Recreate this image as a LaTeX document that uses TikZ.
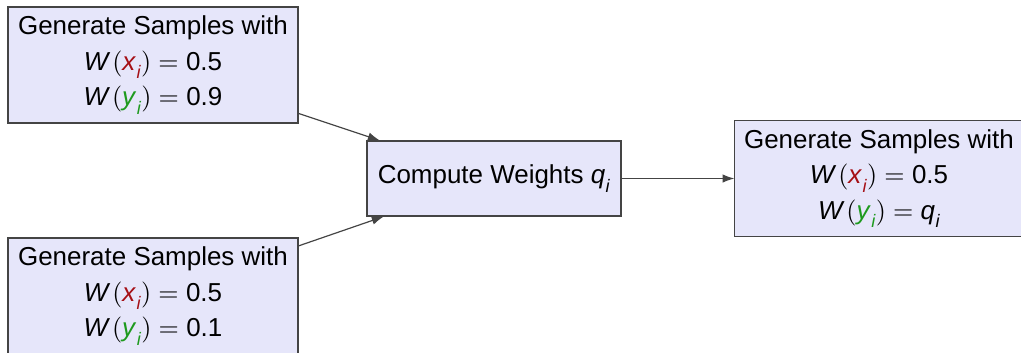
\documentclass[tikz,border=0pt]{standalone}
\usepackage{fontspec}
\setmainfont{Liberation Sans}
\usetikzlibrary{arrows.meta}
\definecolor{xcol}{HTML}{A50F15}
\definecolor{ycol}{HTML}{1E9A1E}
\definecolor{boxfill}{HTML}{E6E6FA}
\definecolor{boxline}{HTML}{444444}
% italic variable with an italic subscript
\newcommand{\var}[2]{\textit{#1}\kern0.2pt\raisebox{-0.32em}{\fontsize{7.6}{8}\selectfont\textit{#2}}}
\newcommand{\wt}[1]{\textit{W}\kern0.8pt$($#1$)$${}={}$}
\begin{document}
\begin{tikzpicture}[x=0.42pt,y=-0.42pt,
  every node/.style={font=\fontsize{10.9}{15}\selectfont},
  boxnode/.style={draw=boxline, fill=boxfill, line width=0.45pt, align=center, inner sep=0pt},
  conn/.style={draw=boxline, line width=0.5pt, -{Latex[length=5pt,width=3.6pt]}}]
\useasboundingbox (0,0) rectangle (1021,352);
\node[boxnode, minimum width=121.8pt, minimum height=48.7pt] (a) at (153,65)
  {Generate Samples with\\ \wt{\textcolor{xcol}{\var{x}{i}}}0.5\\ \wt{\textcolor{ycol}{\var{y}{i}}}0.9};
\node[boxnode, minimum width=121.8pt, minimum height=48.7pt] (b) at (153,296)
  {Generate Samples with\\ \wt{\textcolor{xcol}{\var{x}{i}}}0.5\\ \wt{\textcolor{ycol}{\var{y}{i}}}0.1};
\node[boxnode, minimum width=106.7pt, minimum height=31.5pt] (c) at (494,178.5)
  {Compute Weights \var{q}{i}};
\node[boxnode, minimum width=121pt, minimum height=49.1pt] (d) at (879,178.5)
  {Generate Samples with\\ \wt{\textcolor{xcol}{\var{x}{i}}}0.5\\ \wt{\textcolor{ycol}{\var{y}{i}}}\var{q}{i}};
\draw[conn] (a) -- (c);
\draw[conn] (b) -- (c);
\draw[conn] (c) -- (d);
\end{tikzpicture}
\end{document}
